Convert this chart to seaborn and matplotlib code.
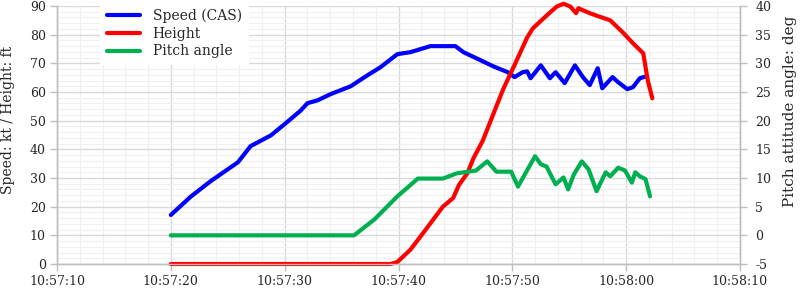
import matplotlib
matplotlib.use("Agg")
import matplotlib.pyplot as plt
import seaborn as sns
import pandas as pd
from matplotlib.ticker import MultipleLocator, FixedLocator, FixedFormatter
from matplotlib.lines import Line2D

# seconds after 10:57:00
speed_t = [20, 21.75, 23.5, 25.9, 27, 28.8, 30, 31.4, 32, 32.9, 34, 35.8, 37.3, 38.4,
           39.9, 41.05, 42.8, 45, 45.7, 47.2, 48.3, 49.6, 50.2, 50.9, 51.3, 51.6, 52.5,
           53.3, 53.8, 54.6, 55.5, 56.2, 56.8, 57.5, 57.9, 58.8, 59.3, 60.1, 60.6, 61.2, 61.8]
speed_kt = [17.1, 23.5, 28.9, 35.5, 41.1, 44.9, 48.8, 53.5, 56.1, 57.1, 59.2, 62.0, 65.9, 68.6,
            73.2, 73.9, 76.0, 76.0, 73.9, 71.1, 69.0, 66.9, 65.2, 66.9, 67.2, 64.8, 69.3,
            64.8, 66.9, 63.1, 69.3, 65.2, 62.4, 68.3, 61.3, 65.2, 63.4, 61.0, 61.7, 64.8, 65.5]

height_t = [20, 39.3, 39.9, 41.05, 42.2, 43.9, 44.8, 45.3, 46.05, 46.6, 47.4, 48.1, 49.2,
            50.1, 51.3, 51.8, 53.1, 53.9, 54.5, 55.1, 55.6, 55.8, 56.8, 57.5, 58.6, 59.7,
            60.6, 61.5, 61.9, 62.3]
height_ft = [0, 0, 0.7, 5, 11, 20, 23, 27.5, 31.7, 37, 43, 50, 61,
             68.6, 79, 82.2, 87, 89.8, 90.8, 89.8, 87.5, 89.2, 87.5, 86.5, 85, 80.8,
             77, 73.5, 64, 57.8]

pitch_t = [20, 36.1, 37.9, 39.9, 41.7, 43.9, 45.1, 46.8, 47.8, 48.6, 49.9, 50.5, 51.2,
           52.0, 52.5, 53.0, 53.8, 54.5, 54.9, 55.4, 56.1, 56.7, 57.4, 58.2, 58.6, 59.3,
           59.9, 60.5, 60.8, 61.2, 61.7, 62.1]
pitch_deg = [0, 0, 2.8, 6.8, 9.9, 9.9, 10.8, 11.3, 12.9, 11.1, 11.1, 8.5, 11.0,
             13.8, 12.4, 12.0, 8.9, 10.1, 8.0, 10.6, 12.9, 11.5, 7.7, 11.0, 10.3, 11.8,
             11.3, 9.2, 11.0, 10.3, 9.8, 6.8]

time_labels = ["10:57:10", "10:57:20", "10:57:30", "10:57:40", "10:57:50", "10:58:00", "10:58:10"]
series_names = ["Speed (CAS)", "Height", "Pitch angle"]
series_colors = ["#0000ff", "#ff0000", "#00b050"]

def to_sec(s):
    h, m, x = map(int, s.split(":"))
    return (h - 10) * 3600 + (m - 57) * 60 + x

sns.set_theme(style="white")
plt.rcParams["font.family"] = ["DejaVu Serif"]
plt.rcParams["axes.unicode_minus"] = False

fig = plt.figure(figsize=(8, 2.91), dpi=100)
ax = fig.add_axes([57 / 800, 1 - 264 / 291, (740 - 57) / 800, (264 - 6) / 291])
ax2 = ax.twinx()

speed_df = pd.DataFrame({"t": speed_t, "v": speed_kt})
height_df = pd.DataFrame({"t": height_t, "v": height_ft})
pitch_df = pd.DataFrame({"t": pitch_t, "v": pitch_deg})

lw = 3.0
sns.lineplot(data=speed_df, x="t", y="v", ax=ax, color=series_colors[0], lw=lw,
             solid_capstyle="round", solid_joinstyle="round", zorder=4)
sns.lineplot(data=height_df, x="t", y="v", ax=ax, color=series_colors[1], lw=lw,
             solid_capstyle="round", solid_joinstyle="round", zorder=5)
sns.lineplot(data=pitch_df, x="t", y="v", ax=ax2, color=series_colors[2], lw=lw,
             solid_capstyle="round", solid_joinstyle="round", zorder=3)
for a in (ax, ax2):
    for ln in a.lines:
        ln.set_clip_on(False)

ticks = [to_sec(s) for s in time_labels]
ax.set_xlim(ticks[0], ticks[-1])
ax.xaxis.set_major_locator(FixedLocator(ticks))
ax.xaxis.set_major_formatter(FixedFormatter(time_labels))
ax.xaxis.set_minor_locator(MultipleLocator(2))
ax.set_ylim(0, 90)
ax.yaxis.set_major_locator(MultipleLocator(10))
ax.yaxis.set_minor_locator(MultipleLocator(2))
ax2.set_ylim(-5, 40)
ax2.yaxis.set_major_locator(MultipleLocator(5))

ax.grid(True, which="major", color="#d9d9d9", lw=1.0)
ax.grid(True, which="minor", color="#efefef", lw=0.8)
ax.set_axisbelow(True)
ax2.grid(False)

for a in (ax, ax2):
    for side, sp in a.spines.items():
        sp.set_color("#bfbfbf")
        sp.set_linewidth(1.0)
    a.spines["top"].set_visible(False)

ax.tick_params(axis="both", which="major", direction="out", length=5, width=1,
               color="#bfbfbf", labelsize=9, labelcolor="#262626", pad=3)
ax.tick_params(axis="both", which="minor", length=0)
ax.tick_params(axis="y", left=True, right=False)
ax.tick_params(axis="x", bottom=True)
ax2.tick_params(axis="y", direction="out", length=5, width=1, color="#bfbfbf",
                labelsize=9, labelcolor="#262626", pad=6, right=True)

ax.set_xlabel("")
ax.set_ylabel("Speed: kt / Height: ft", fontsize=10, color="#262626")
ax.yaxis.set_label_coords((15 - 57) / 683, 0.56)
ax2.set_ylabel("Pitch attitude angle: deg", fontsize=11, color="#262626", rotation=90)
ax2.yaxis.set_label_coords((783 - 57) / 683, 0.59)

handles = [Line2D([0], [0], color=c, lw=lw) for c in series_colors]
leg = ax2.legend(handles, series_names, loc="upper left",
                 bbox_to_anchor=((100 - 57) / 683, 1.018), borderaxespad=0.0,
                 fontsize=10, handlelength=2.4, handletextpad=0.9,
                 labelspacing=0.28, frameon=True, fancybox=False, borderpad=0.5)
leg.get_frame().set_facecolor("white")
leg.get_frame().set_edgecolor("none")
leg.get_frame().set_alpha(1.0)
leg.set_zorder(10)
for t in leg.get_texts():
    t.set_color("#262626")

fig.savefig("out.png", dpi=100)
